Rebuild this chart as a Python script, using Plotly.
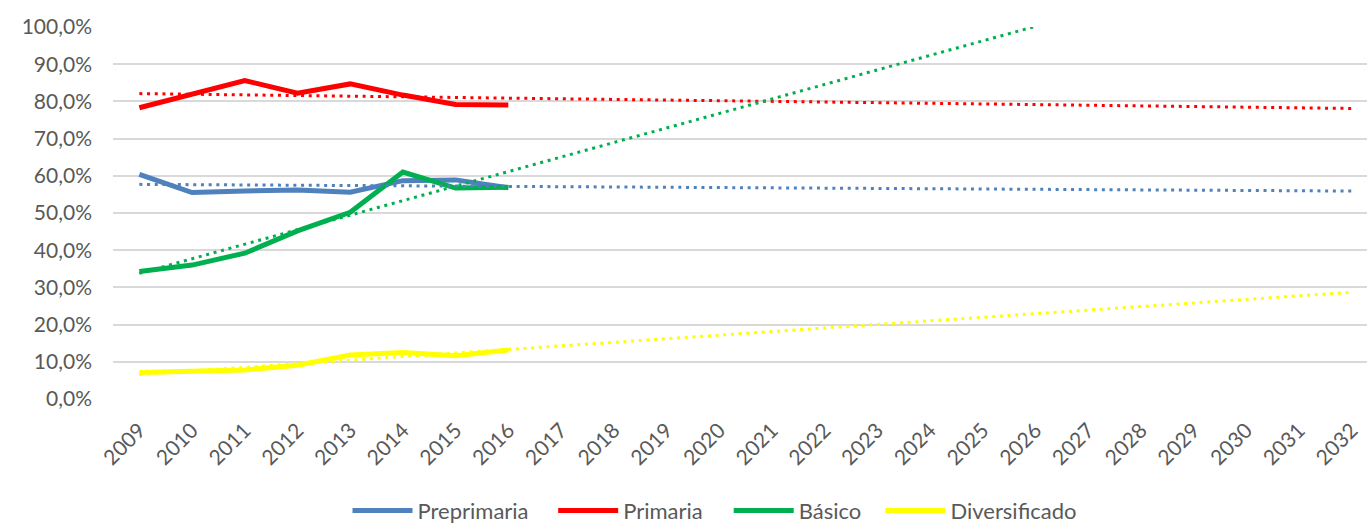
import plotly.graph_objects as go

years = [str(y) for y in range(2009, 2033)]
data_years = years[:8]

series_names = ["Preprimaria", "Primaria", "Básico", "Diversificado"]
preprimaria = [60.4, 55.5, 55.9, 56.2, 55.6, 58.7, 58.9, 56.8]
primaria = [78.3, 81.9, 85.6, 82.2, 84.7, 81.7, 79.2, 79.0]
basico = [34.3, 36.0, 39.2, 45.2, 50.2, 61.0, 56.7, 56.9]
diversificado = [7.1, 7.3, 7.8, 9.1, 11.8, 12.5, 11.6, 13.2]

# linear trend lines: value at 2009 and at 2032
trend_start = [57.7, 82.1, 33.8, 6.6]
trend_end = [55.9, 78.1, 123.6, 28.7]

colors = ["#4F81BD", "#FF0000", "#00B050", "#FFFF00"]
y_ticks = list(range(0, 101, 10))
y_tick_labels = [f"{v:.1f}".replace(".", ",") + "%" for v in y_ticks]

values = [preprimaria, primaria, basico, diversificado]

# left edge of each legend entry, as a fraction of the plot width
legend_x = [0.187, 0.351, 0.491, 0.612]
legend_ids = ["legend", "legend2", "legend3", "legend4"]

fig = go.Figure()
for name, vals, col, lid in zip(series_names, values, colors, legend_ids):
    fig.add_trace(go.Scatter(
        x=data_years, y=vals, mode="lines", name=name, legend=lid,
        line=dict(color=col, width=5),
    ))
for name, s, e, col in zip(series_names, trend_start, trend_end, colors):
    fig.add_trace(go.Scatter(
        x=[years[0], years[-1]], y=[s, e], mode="lines",
        showlegend=False, hoverinfo="skip",
        line=dict(color=col, width=3, dash="3px,4.7px"),
    ))

font = dict(family="Lato, Carlito, Calibri, sans-serif", size=21, color="#595959")
legend_font = dict(family="Lato, Carlito, Calibri, sans-serif", size=22, color="#595959")

legends = {}
for lid, lx in zip(legend_ids, legend_x):
    legends[lid] = dict(orientation="h", x=lx, xanchor="left", y=-0.30, yanchor="middle",
                        font=legend_font, itemwidth=60, bgcolor="rgba(0,0,0,0)")

fig.update_layout(
    width=1367, height=523,
    margin=dict(l=113, r=0, t=27, b=124, autoexpand=False),
    paper_bgcolor="white", plot_bgcolor="white",
    font=font,
    showlegend=True,
    xaxis=dict(
        type="category", categoryorder="array", categoryarray=years,
        range=[-0.5, 23.29], tickangle=-45, showgrid=False, automargin=False,
        showline=False, ticks="", tickfont=font, zeroline=False,
        ticklabelstandoff=14,
    ),
    yaxis=dict(
        range=[0, 100], tickvals=y_ticks, ticktext=y_tick_labels, automargin=False,
        showgrid=True, gridcolor="#D9D9D9", gridwidth=1.5,
        zeroline=False, showline=False, ticks="", tickfont=font,
        ticklabelstandoff=20,
    ),
    **legends,
)

fig.write_html("out.html", config={"displayModeBar": False},
               post_script="document.body.style.margin='0px';")
